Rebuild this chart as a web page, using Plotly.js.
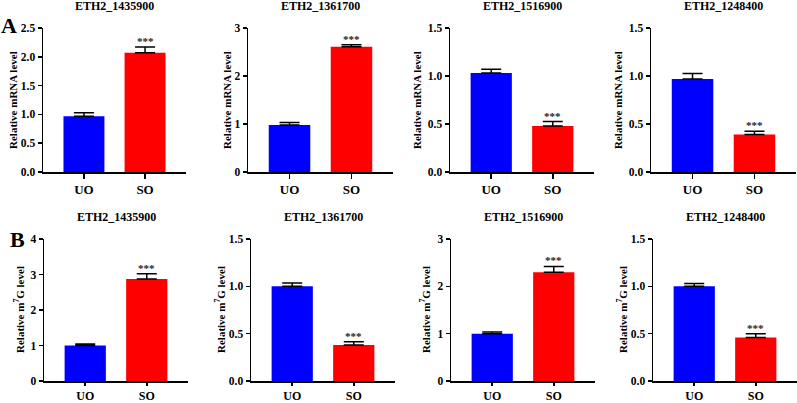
<!DOCTYPE html>
<html>
<head>
<meta charset="utf-8">
<script src="https://cdn.plot.ly/plotly-3.0.1.min.js"></script>
<style>html,body{margin:0;padding:0;background:#fff;}#chart{width:797px;height:403px;}</style>
</head>
<body>
<div id="chart"></div>
<script>
// ---- data ----
const categories = ['UO', 'SO'];
const geneNames = ['ETH2_1435900', 'ETH2_1361700', 'ETH2_1516900', 'ETH2_1248400'];
const mrnaMean = [[0.97, 2.07], [0.98, 2.61], [1.03, 0.48], [0.97, 0.39]];
const mrnaSD   = [[0.06, 0.10], [0.05, 0.04], [0.04, 0.045], [0.055, 0.035]];
const m7gMean  = [[1.00, 2.87], [1.00, 0.38], [1.00, 2.30], [1.00, 0.46]];
const m7gSD    = [[0.04, 0.15], [0.035, 0.035], [0.035, 0.12], [0.03, 0.04]];
const mrnaYMax = [2.5, 3, 1.5, 1.5];
const m7gYMax  = [4, 1.5, 3, 1.5];
const mrnaDtick = [0.5, 1, 0.5, 0.5];
const m7gDtick  = [1, 0.5, 1, 0.5];
const sigLabel = '***';
const rowTitles = ['Relative mRNA level', 'Relative m<sup>7</sup>G level'];
const rowLetters = ['A', 'B'];

// ---- layout geometry (pixels) ----
const W = 797, H = 403;
const xPix = [[43, 186], [248, 393], [450, 594], [651, 796], [44, 188], [251, 395], [451, 595], [653, 797]];
const yPix = [[28, 172], [239, 381]];
const yTitleX = [13, 227, 417, 618, 19, 220, 425, 622];
const titleY = [6, 217];
const letterPos = [[9, 26], [17, 240]];

const FONT = 'Liberation Serif, Times New Roman, serif';
const colors = ['#0000FF', '#FF0000'];

const traces = [];
const layout = {
  width: W, height: H,
  margin: {l: 0, r: 0, t: 0, b: 0},
  paper_bgcolor: '#fff', plot_bgcolor: '#fff',
  showlegend: false,
  font: {family: FONT, color: '#000', weight: 'bold'},
  annotations: []
};

for (let p = 0; p < 8; p++) {
  const row = p < 4 ? 0 : 1;
  const k = p % 4;
  const mean = row === 0 ? mrnaMean[k] : m7gMean[k];
  const sd = row === 0 ? mrnaSD[k] : m7gSD[k];
  const ymax = row === 0 ? mrnaYMax[k] : m7gYMax[k];
  const dt = row === 0 ? mrnaDtick[k] : m7gDtick[k];
  const n = p + 1;
  const xa = 'x' + (n === 1 ? '' : n), ya = 'y' + (n === 1 ? '' : n);
  const xk = 'xaxis' + (n === 1 ? '' : n), yk = 'yaxis' + (n === 1 ? '' : n);

  traces.push({
    type: 'bar', x: categories, y: mean, xaxis: xa, yaxis: ya,
    width: 0.67,
    marker: {color: colors, line: {width: 0}},
    error_y: {type: 'data', array: sd, symmetric: false, arrayminus: [0, 0], color: '#000', thickness: 1.5, width: 10},
    hoverinfo: 'skip'
  });

  layout[xk] = {
    domain: [xPix[p][0] / W, xPix[p][1] / W],
    anchor: ya, type: 'category', range: [-0.67, 1.67],
    showline: true, linecolor: '#000', linewidth: 1.5,
    ticks: 'outside', ticklen: row === 0 ? 5 : 3, tickwidth: 1.5, tickcolor: '#000',
    showgrid: false, zeroline: false, fixedrange: true,
    tickfont: {family: FONT, size: row === 0 ? 13 : 12, color: '#000', weight: 'bold'}
  };
  layout[yk] = {
    domain: [1 - yPix[row][1] / H, 1 - yPix[row][0] / H],
    anchor: xa, range: [0, ymax], dtick: dt, tick0: 0,
    tickformat: dt < 1 ? '.1f' : 'd',
    showline: true, linecolor: '#000', linewidth: 1.5,
    ticks: 'outside', ticklen: 4, tickwidth: 1.5, tickcolor: '#000',
    showgrid: false, zeroline: false, fixedrange: true,
    tickfont: {family: FONT, size: 11.5, color: '#000', weight: 'bold'}
  };

  // panel title
  layout.annotations.push({
    xref: 'paper', yref: 'paper',
    x: ((xPix[p][0] + xPix[p][1]) / 2) / W, y: 1 - titleY[row] / H,
    text: geneNames[k], showarrow: false, xanchor: 'center', yanchor: 'middle',
    font: {family: FONT, size: 12, color: '#000', weight: 'bold'}
  });
  // y-axis title
  layout.annotations.push({
    xref: 'paper', yref: 'paper',
    x: yTitleX[p] / W, y: 1 - ((yPix[row][0] + yPix[row][1]) / 2) / H,
    text: rowTitles[row], textangle: -90, showarrow: false,
    xanchor: 'center', yanchor: 'middle',
    font: {family: FONT, size: 11, color: '#000', weight: 'bold'}
  });
  // significance stars on SO bar
  layout.annotations.push({
    xref: xa, yref: ya, x: categories[1], y: mean[1] + sd[1],
    text: sigLabel, showarrow: false, xanchor: 'center', yanchor: 'bottom', yshift: -2,
    font: {family: FONT, size: 11, color: '#222', weight: 'bold'}
  });
}

for (let r = 0; r < 2; r++) {
  layout.annotations.push({
    xref: 'paper', yref: 'paper', x: letterPos[r][0] / W, y: 1 - letterPos[r][1] / H,
    text: rowLetters[r], showarrow: false, xanchor: 'center', yanchor: 'middle',
    font: {family: FONT, size: 22, color: '#000', weight: 'bold'}
  });
}

Plotly.newPlot('chart', traces, layout, {displayModeBar: false, staticPlot: true});
</script>
</body>
</html>
